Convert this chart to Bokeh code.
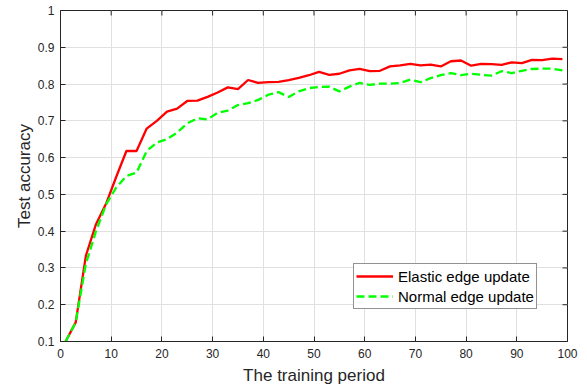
import math
from bokeh.plotting import figure
from bokeh.models import FixedTicker, Range1d, Legend, LegendItem
from bokeh.embed import file_html
from bokeh.resources import INLINE

periods = list(range(1, 100, 2))
elastic = [0.100, 0.152, 0.333, 0.419, 0.475, 0.548, 0.618, 0.618, 0.679, 0.700,
           0.725, 0.733, 0.754, 0.755, 0.765, 0.777, 0.791, 0.786, 0.811, 0.803,
           0.805, 0.806, 0.811, 0.817, 0.824, 0.833, 0.825, 0.828, 0.837, 0.841,
           0.835, 0.836, 0.848, 0.851, 0.855, 0.851, 0.853, 0.848, 0.862, 0.864,
           0.850, 0.855, 0.854, 0.852, 0.859, 0.857, 0.866, 0.865, 0.869, 0.868]
normal = [0.100, 0.152, 0.311, 0.400, 0.473, 0.519, 0.550, 0.559, 0.618, 0.641,
          0.650, 0.668, 0.693, 0.707, 0.704, 0.722, 0.728, 0.743, 0.748, 0.757,
          0.771, 0.778, 0.765, 0.780, 0.789, 0.792, 0.793, 0.780, 0.793, 0.803,
          0.798, 0.801, 0.801, 0.803, 0.812, 0.805, 0.816, 0.824, 0.830, 0.824,
          0.828, 0.825, 0.823, 0.835, 0.830, 0.836, 0.841, 0.842, 0.842, 0.837]
x_ticks = list(range(0, 101, 10))
y_ticks = [0.1, 0.2, 0.3, 0.4, 0.5, 0.6, 0.7, 0.8, 0.9, 1.0]
x_min, x_max = 0, 100
y_min, y_max = 0.1, 1.0

FONT = "Liberation Sans"
AX = "#262626"

p = figure(width=587, height=391, output_backend="svg", toolbar_location=None,
           x_range=Range1d(x_min, x_max), y_range=Range1d(y_min, y_max),
           min_border_left=60, min_border_right=20, min_border_top=10, min_border_bottom=50)
p.outline_line_color = AX
p.outline_line_width = 1
p.background_fill_color = "white"

for ax in (p.xaxis[0], p.yaxis[0]):
    ax.major_tick_in = 5
    ax.major_tick_out = 0
    ax.minor_tick_in = 0
    ax.minor_tick_out = 0
    ax.axis_line_color = AX
    ax.major_tick_line_color = AX
    ax.major_label_text_font = FONT
    ax.major_label_text_font_size = "12px"
    ax.major_label_text_color = AX
    ax.axis_label_text_font = FONT
    ax.axis_label_text_font_size = "17px"
    ax.axis_label_text_font_style = "normal"
    ax.axis_label_text_color = AX

p.xaxis.ticker = FixedTicker(ticks=x_ticks)
p.yaxis.ticker = FixedTicker(ticks=y_ticks)
p.yaxis.major_label_overrides = {1.0: "1"}
p.xaxis.axis_label = "The training period"
p.yaxis.axis_label = "Test accuracy"
p.xaxis.axis_label_standoff = 5
p.yaxis.axis_label_standoff = 1
p.xaxis.major_label_standoff = 7
p.yaxis.major_label_standoff = 6

# inward ticks on the top and right edges of the box
p.ray(x=x_ticks, y=[y_max] * len(x_ticks), length=5, length_units="screen",
      angle=-math.pi / 2, line_color=AX, line_width=1)
p.ray(x=[x_max] * len(y_ticks), y=y_ticks, length=5, length_units="screen",
      angle=math.pi, line_color=AX, line_width=1)

p.xgrid.ticker = FixedTicker(ticks=x_ticks)
p.ygrid.ticker = FixedTicker(ticks=y_ticks)
p.grid.grid_line_color = "#e0e0e0"
p.grid.grid_line_width = 1

r1 = p.line(periods, elastic, line_color="#ff0000", line_width=2.3)
r2 = p.line(periods, normal, line_color="#00ff00", line_width=2.3, line_dash="8 4")

legend = Legend(items=[LegendItem(label="Elastic edge update", renderers=[r1]),
                       LegendItem(label="Normal edge update", renderers=[r2])],
                location=(293, 32), label_text_font=FONT, label_text_font_size="15px",
                label_text_color="black", border_line_color=AX, border_line_width=1,
                glyph_width=37, glyph_height=20, label_height=20, spacing=0,
                padding=2, margin=0, label_standoff=5, background_fill_alpha=1)
p.add_layout(legend, "center")

open("out.html", "w").write(file_html(p, INLINE))
